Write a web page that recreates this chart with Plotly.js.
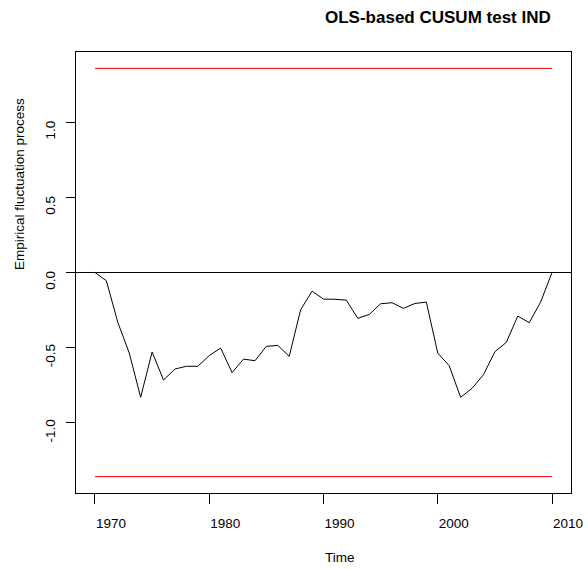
<!DOCTYPE html>
<html>
<head>
<meta charset="utf-8">
<script src="https://cdn.plot.ly/plotly-3.0.1.min.js"></script>
<style>html,body{margin:0;padding:0;background:#fff;}#chart{width:588px;height:569px;}</style>
</head>
<body>
<div id="chart"></div>
<script>
// Years of the fluctuation process
var years = [1970,1971,1972,1973,1974,1975,1976,1977,1978,1979,1980,1981,1982,1983,1984,1985,1986,1987,1988,1989,1990,1991,1992,1993,1994,1995,1996,1997,1998,1999,2000,2001,2002,2003,2004,2005,2006,2007,2008,2009,2010];
// Empirical fluctuation process (OLS-based CUSUM)
var process = [0,-0.055,-0.332,-0.536,-0.830,-0.529,-0.715,-0.642,-0.624,-0.624,-0.553,-0.503,-0.666,-0.576,-0.587,-0.491,-0.485,-0.558,-0.248,-0.124,-0.177,-0.178,-0.184,-0.305,-0.279,-0.208,-0.201,-0.239,-0.206,-0.197,-0.536,-0.620,-0.830,-0.771,-0.680,-0.527,-0.465,-0.290,-0.334,-0.197,0];
// Boundary (alpha = 0.05)
var boundaryUpper = [1.358, 1.358];
var boundaryLower = [-1.358, -1.358];
var boundaryYears = [years[0], years[years.length-1]];
var xTicks = [1970,1980,1990,2000,2010];
var yTicks = [-1.0,-0.5,0.0,0.5,1.0];
var yTickText = ['-1.0','-0.5','0.0','0.5','1.0'];

var font = 'Liberation Sans, Arial, Helvetica, sans-serif';
var traces = [
  {x: years, y: process, type: 'scatter', mode: 'lines', line: {color: '#000000', width: 1}, hoverinfo: 'x+y'},
  {x: boundaryYears, y: boundaryUpper, type: 'scatter', mode: 'lines', line: {color: '#ff0000', width: 1}},
  {x: boundaryYears, y: boundaryLower, type: 'scatter', mode: 'lines', line: {color: '#ff0000', width: 1}}
];
var L = 76, R = 17, T = 52, B = 76, W = 588, H = 569;
var layout = {
  width: W, height: H,
  margin: {l: L, r: R, t: T, b: B, pad: 0},
  paper_bgcolor: '#ffffff', plot_bgcolor: '#ffffff',
  showlegend: false,
  font: {family: font, size: 13.5, color: '#000000'},
  title: {text: '<b>OLS-based CUSUM test IND</b>', font: {family: font, size: 17, color: '#000000'},
          xref: 'container', yref: 'container', x: 325/W, xanchor: 'left', y: 1 - 17.5/H, yanchor: 'middle'},
  xaxis: {range: [1968.34, 2011.66], tickvals: xTicks, ticktext: xTicks.map(String),
          ticks: 'outside', ticklen: 10, tickwidth: 1, tickcolor: '#000000',
          showline: true, linecolor: '#000000', linewidth: 1, mirror: true,
          showgrid: false, zeroline: false, ticklabelshift: 16, ticklabelstandoff: 8,
          tickfont: {family: font, size: 13.5, color: '#000000'}},
  yaxis: {range: [-1.467, 1.467], tickvals: yTicks, ticktext: yTickText, tickangle: -90,
          ticks: 'outside', ticklen: 9, tickwidth: 1, tickcolor: '#000000',
          showline: true, linecolor: '#000000', linewidth: 1, mirror: true,
          showgrid: false, zeroline: true, zerolinecolor: '#000000', zerolinewidth: 1,
          ticklabelshift: 10, ticklabelstandoff: 6,
          tickfont: {family: font, size: 13.5, color: '#000000'}},
  annotations: [
    {text: 'Time', xref: 'paper', yref: 'paper', x: (323 - L)/(W - L - R), y: -(557 - (H - B))/(H - T - B),
     xanchor: 'left', yanchor: 'middle', showarrow: false, font: {family: font, size: 13.5, color: '#000000'}},
    {text: 'Empirical fluctuation process', xref: 'paper', yref: 'paper', x: -(L - 19)/(W - L - R), y: (H - B - 272)/(H - T - B),
     xanchor: 'center', yanchor: 'bottom', textangle: -90, showarrow: false, font: {family: font, size: 13.5, color: '#000000'}}
  ]
};
Plotly.newPlot('chart', traces, layout, {staticPlot: true, displayModeBar: false});
</script>
</body>
</html>
